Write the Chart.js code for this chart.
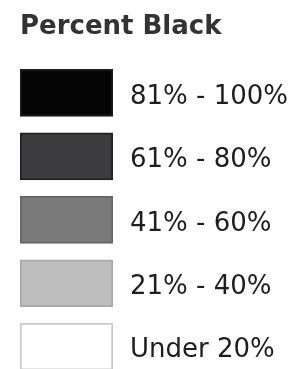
<!DOCTYPE html>
<html>
<head>
<meta charset="utf-8">
<script src="https://cdn.jsdelivr.net/npm/chart.js@4"></script>
<style>
  html, body { margin: 0; padding: 0; background: #fff; overflow: hidden; }
</style>
</head>
<body>
<canvas id="legend" width="307" height="411"></canvas>
<script>
// legend classes, top to bottom
const classLabels = ['81% - 100%', '61% - 80%', '41% - 60%', '21% - 40%', 'Under 20%'];
const swatchValues = [1, 1, 1, 1, 1];
const legendTitle = 'Percent Black';

const fillColors = ['#050505', '#3c3c3f', '#7a7a7a', '#bebebe', '#ffffff'];
const edgeColors = ['#1c1c1c', '#202020', '#676767', '#a9a9a9', '#c9c9c9'];

const ctx = document.getElementById('legend').getContext('2d');
new Chart(ctx, {
    type: 'bar',
    data: {
        labels: classLabels,
        datasets: [{
            data: swatchValues,
            backgroundColor: fillColors,
            borderColor: edgeColors,
            borderWidth: 2,
            borderSkipped: false,
            barThickness: 47
        }]
    },
    options: {
        indexAxis: 'y',
        responsive: false,
        animation: false,
        layout: { padding: { left: 20, right: 0, top: 4, bottom: 2 } },
        plugins: {
            legend: { display: false },
            tooltip: { enabled: false },
            title: {
                display: true,
                text: legendTitle,
                align: 'start',
                color: '#333333',
                font: { family: 'DejaVu Sans', size: 26, weight: 'bold' },
                padding: { top: 8, bottom: 18 }
            }
        },
        scales: {
            x: { display: false, min: 0, max: 1 },
            y: {
                position: 'right',
                grid: { display: false, drawTicks: false },
                border: { display: false },
                ticks: {
                    color: '#1e1e1e',
                    font: { family: 'DejaVu Sans', size: 26 },
                    padding: 17,
                    labelOffset: 4
                },
                afterFit: function(scale) { scale.width = 194; }
            }
        }
    }
});
</script>
</body>
</html>
